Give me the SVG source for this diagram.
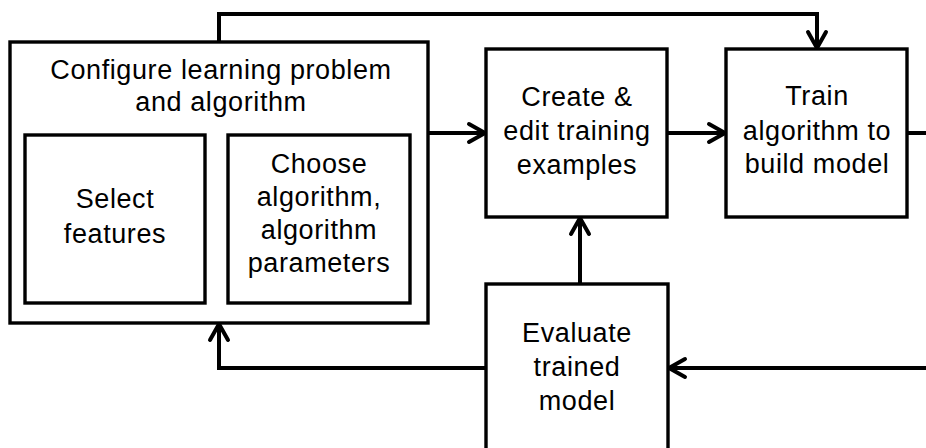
<svg xmlns="http://www.w3.org/2000/svg" width="926" height="448" viewBox="0 0 926 448">
<style>
.box{fill:#fff;stroke:#000;stroke-width:3.4}
.ln{fill:none;stroke:#000;stroke-width:4;stroke-linejoin:miter}
.t{font-family:"Liberation Sans",Arial,sans-serif;font-size:27px;letter-spacing:0.6px;fill:#000;text-anchor:middle}
</style>
<defs>
<marker id="ah" viewBox="0 0 24 24" markerUnits="userSpaceOnUse" markerWidth="24" markerHeight="24" refX="20" refY="12" orient="auto">
<path d="M3,3 L19,12 L3,21" fill="none" stroke="#000" stroke-width="4" stroke-linecap="round" stroke-linejoin="round"/>
</marker>
</defs>
<rect width="926" height="448" fill="#fff"/>
<g id="connectors">
<path class="ln" d="M219,42 V14 H817 V49" marker-end="url(#ah)"/>
<path class="ln" d="M428,133 H486" marker-end="url(#ah)"/>
<path class="ln" d="M667,133 H726" marker-end="url(#ah)"/>
<path class="ln" d="M907,133 H926"/>
<path class="ln" d="M580,284 V217" marker-end="url(#ah)"/>
<path class="ln" d="M926,368 H668" marker-end="url(#ah)"/>
<path class="ln" d="M486,368 H219 V323" marker-end="url(#ah)"/>
</g>
<g id="configure">
<rect class="box" x="10" y="42" width="418" height="281"/>
<text class="t" x="221" y="79">Configure learning problem</text>
<text class="t" x="221" y="111">and algorithm</text>
</g>
<g id="select">
<rect class="box" x="25" y="135" width="180" height="168"/>
<text class="t" x="115" y="208">Select</text>
<text class="t" x="115" y="243">features</text>
</g>
<g id="choose">
<rect class="box" x="228" y="135" width="182" height="168"/>
<text class="t" x="319" y="173">Choose</text>
<text class="t" x="319" y="206">algorithm,</text>
<text class="t" x="319" y="239">algorithm</text>
<text class="t" x="319" y="272">parameters</text>
</g>
<g id="create">
<rect class="box" x="486" y="49" width="181" height="168"/>
<text class="t" x="577" y="106">Create &amp;</text>
<text class="t" x="577" y="140">edit training</text>
<text class="t" x="577" y="174">examples</text>
</g>
<g id="train">
<rect class="box" x="726" y="49" width="181" height="168"/>
<text class="t" x="817" y="105">Train</text>
<text class="t" x="817" y="140">algorithm to</text>
<text class="t" x="817" y="173">build model</text>
</g>
<g id="evaluate">
<rect class="box" x="486" y="284" width="182" height="200"/>
<text class="t" x="577" y="342">Evaluate</text>
<text class="t" x="577" y="376">trained</text>
<text class="t" x="577" y="410">model</text>
</g>
</svg>
